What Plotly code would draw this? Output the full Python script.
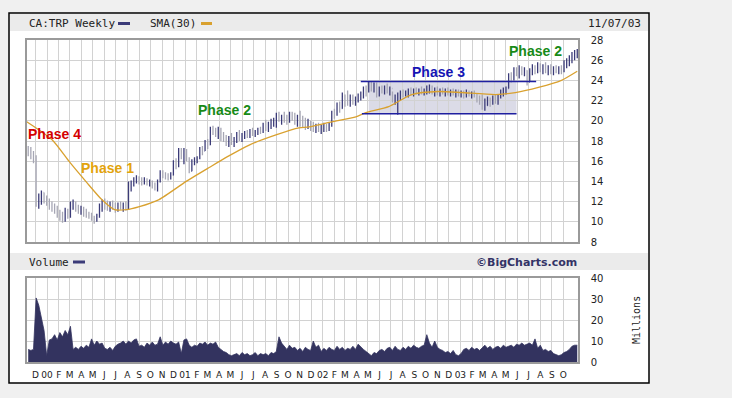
import plotly.graph_objects as go
import pandas as pd

# ---------------- data (weekly, CA:TRP) ----------------
week_start = "1999-11-12"
n_weeks = 209

highs = [17.5, 17.4, 17.0, 16.6, 12.8, 13.1, 12.9, 12.6, 12.3, 12.0,
         11.8, 11.6, 11.2, 11.0, 11.4, 11.3, 12.0, 12.2, 12.0, 11.7,
         11.6, 11.5, 11.3, 11.0, 10.9, 10.6, 10.8, 11.8, 12.2, 12.3,
         12.1, 12.0, 12.1, 11.9, 11.9, 12.0, 11.9, 12.0, 14.0, 14.1,
         14.4, 14.6, 14.5, 14.4, 14.4, 14.3, 14.2, 14.1, 13.9, 14.2,
         15.1, 15.1, 14.9, 14.8, 14.9, 16.1, 16.3, 17.3, 17.3, 17.3,
         17.2, 16.4, 16.2, 16.4, 16.5, 17.4, 17.5, 18.1, 18.2, 19.4,
         19.5, 19.3, 19.4, 19.3, 18.9, 18.6, 18.5, 18.8, 18.4, 18.9,
         19.1, 18.8, 19.0, 19.1, 19.2, 19.3, 19.1, 19.3, 19.4, 19.8,
         20.1, 19.9, 20.2, 20.3, 20.8, 20.9, 20.6, 20.9, 20.6, 20.9,
         20.9, 20.8, 20.6, 21.0, 20.5, 20.3, 20.2, 20.0, 19.9, 19.7,
         19.8, 19.6, 19.8, 19.7, 19.8, 21.0, 21.2, 21.8, 21.9, 22.8,
         22.6, 23.0, 22.6, 22.6, 22.4, 22.7, 22.9, 23.4, 23.5, 23.9,
         23.9, 23.8, 23.8, 23.4, 23.5, 23.5, 23.7, 23.4, 22.9, 22.6,
         22.8, 23.0, 23.1, 23.0, 23.2, 23.3, 23.2, 23.3, 23.2, 23.4,
         23.2, 23.5, 23.6, 23.5, 23.3, 23.4, 23.2, 23.3, 23.2, 23.3,
         23.1, 23.2, 23.1, 23.1, 23.0, 23.0, 23.1, 23.0, 22.9, 23.0,
         22.7, 22.5, 22.6, 22.2, 22.4, 22.3, 22.5, 22.6, 22.6, 23.1,
         23.3, 23.4, 24.7, 24.8, 25.3, 25.3, 25.5, 25.4, 25.3, 25.0,
         25.2, 25.6, 25.5, 25.8, 25.7, 25.6, 25.8, 25.5, 25.6, 25.4,
         25.5, 25.4, 25.5, 26.0, 26.2, 26.5, 26.8, 27.0, 27.1]

lows = [16.5, 16.2, 15.8, 11.5, 11.3, 11.7, 11.8, 11.6, 11.2, 11.0,
        10.8, 10.4, 10.1, 9.9, 10.0, 10.3, 10.4, 11.2, 11.0, 10.8,
        10.7, 10.5, 10.4, 10.3, 10.1, 9.8, 10.0, 10.4, 11.0, 11.2,
        11.1, 11.0, 11.2, 10.9, 11.0, 11.2, 11.0, 11.1, 11.2, 13.0,
        13.5, 13.8, 13.7, 13.6, 13.7, 13.6, 13.5, 13.3, 13.1, 13.0,
        13.9, 14.3, 14.2, 14.1, 14.2, 14.6, 15.2, 15.4, 16.2, 15.7,
        16.0, 14.8, 15.0, 15.6, 15.8, 16.2, 16.6, 17.0, 17.2, 17.6,
        18.6, 18.4, 18.2, 18.0, 17.9, 17.5, 17.4, 17.6, 17.4, 17.8,
        18.0, 17.9, 18.2, 18.3, 18.3, 18.5, 18.4, 18.6, 18.7, 18.8,
        19.0, 18.9, 19.2, 19.4, 19.3, 19.9, 19.6, 19.8, 19.6, 19.8,
        20.0, 19.6, 19.4, 19.4, 19.3, 19.1, 19.2, 19.0, 18.9, 18.8,
        18.9, 18.7, 18.9, 18.9, 19.0, 19.4, 20.2, 20.5, 20.8, 21.2,
        21.4, 21.5, 21.4, 21.6, 21.5, 21.8, 22.0, 22.2, 22.4, 22.8,
        22.9, 22.8, 22.3, 22.4, 22.7, 22.6, 22.7, 22.5, 21.8, 21.6,
        20.6, 22.0, 22.3, 22.4, 22.3, 22.5, 22.4, 22.6, 22.5, 22.6,
        22.5, 22.6, 22.7, 22.6, 22.4, 22.5, 22.4, 22.6, 22.4, 22.5,
        22.4, 22.5, 22.3, 22.4, 22.3, 22.2, 22.3, 22.4, 22.2, 22.3,
        21.8, 21.6, 21.1, 21.0, 21.5, 21.4, 21.6, 21.7, 21.6, 22.2,
        22.4, 22.6, 23.2, 23.8, 24.0, 24.4, 24.2, 24.5, 24.4, 23.5,
        23.9, 24.5, 24.6, 24.7, 24.8, 24.6, 24.7, 24.5, 24.6, 24.5,
        24.7, 24.6, 24.6, 24.8, 25.2, 25.4, 25.7, 26.0, 26.2]

closes = [17.0, 16.4, 16.0, 12.0, 12.5, 12.9, 12.2, 11.9, 11.5, 11.2,
          11.0, 10.6, 10.3, 10.2, 11.0, 10.6, 11.8, 11.9, 11.4, 11.0,
          11.2, 10.8, 10.6, 10.5, 10.3, 10.1, 10.5, 11.6, 12.0, 11.6,
          11.4, 11.8, 11.5, 11.3, 11.7, 11.4, 11.6, 11.3, 13.8, 13.9,
          14.2, 14.4, 14.0, 13.9, 14.1, 13.8, 13.9, 13.5, 13.3, 14.0,
          14.9, 14.6, 14.4, 14.3, 14.6, 15.9, 15.6, 17.0, 16.5, 16.9,
          16.3, 15.0, 15.8, 15.9, 16.3, 17.2, 17.0, 17.9, 17.6, 19.2,
          19.0, 18.8, 19.2, 18.3, 18.2, 17.8, 18.3, 17.9, 18.2, 18.6,
          18.3, 18.5, 18.7, 18.6, 18.9, 18.8, 18.9, 19.1, 19.0, 19.6,
          19.4, 19.7, 19.9, 20.0, 20.6, 20.2, 20.4, 20.3, 20.1, 20.5,
          20.3, 19.9, 20.4, 20.0, 19.6, 19.4, 19.8, 19.3, 19.2, 19.5,
          19.1, 19.3, 19.6, 19.1, 19.5, 20.8, 20.6, 21.6, 21.2, 22.5,
          21.8, 21.7, 22.3, 21.9, 22.2, 22.4, 22.5, 23.2, 23.1, 23.7,
          23.3, 23.5, 22.5, 23.1, 23.0, 23.3, 22.9, 23.2, 22.0, 22.2,
          22.5, 22.8, 22.6, 22.8, 23.0, 22.8, 23.0, 22.9, 23.1, 22.8,
          23.0, 23.3, 23.4, 22.9, 23.1, 22.8, 23.0, 22.9, 23.0, 22.7,
          22.9, 22.8, 22.9, 22.6, 22.8, 22.5, 22.9, 22.6, 22.7, 22.5,
          22.0, 21.9, 21.4, 21.5, 22.2, 21.8, 22.3, 22.0, 22.4, 22.9,
          23.1, 23.2, 24.5, 24.3, 25.1, 24.8, 25.2, 24.9, 25.0, 23.8,
          25.0, 25.3, 25.2, 25.5, 25.1, 25.4, 25.2, 25.3, 24.9, 25.2,
          25.0, 25.2, 24.9, 25.8, 25.9, 26.3, 26.6, 26.8, 26.9]

first_open = 17.3

volume_millions = [6, 5.5, 6, 30.5, 27, 21, 15, 3, 10.5, 11,
                   13, 10.5, 14, 12, 15, 13, 17, 6, 7, 6,
                   7.5, 6.5, 8, 7, 11, 8, 10, 8.5, 9, 6.5,
                   6, 7, 5.5, 7.5, 8.5, 9, 10, 8.5, 10, 9,
                   10.5, 11, 7.5, 8, 7, 9, 8, 9.5, 8, 8.5,
                   12, 8, 9.5, 8.5, 10, 9, 8.5, 9.5, 4, 10.5,
                   11, 8, 7, 8, 7.5, 9, 8.5, 9.5, 8, 9,
                   8.5, 9.5, 7, 6, 5, 4.5, 3.5, 3, 3.5, 4,
                   3, 4.5, 3.5, 4, 3, 3.5, 4.5, 3, 4, 3.5,
                   4, 3, 4.5, 4, 5, 12, 9, 7.5, 6, 8,
                   6.5, 7, 5.5, 6.5, 5, 7, 6, 5.5, 10, 7,
                   8, 5, 6.5, 5.5, 7, 6, 5.5, 7.5, 6, 7,
                   5.5, 6.5, 6, 7.5, 6, 8.5, 7, 6, 5, 4,
                   3, 4.5, 4, 5.5, 6, 5, 6.5, 7, 5.5, 7.5,
                   6, 5.5, 7, 6, 7.5, 6.5, 8, 7, 6.5, 7.5,
                   8, 13, 9, 7, 10, 7, 6, 5.5, 4.5, 5,
                   4, 5.5, 3.5, 3, 4, 6, 6.5, 5.5, 7, 6,
                   6.5, 5.5, 7, 8, 6.5, 7.5, 6, 7, 7.5, 6.5,
                   8, 7, 7.5, 8, 7, 8.5, 8, 9, 8, 8.5,
                   9, 8, 11, 6.5, 8, 5.5, 6, 5, 5.5, 4,
                   3.5, 3, 3.5, 4.5, 5, 6, 7.5, 8, 8]

sma_dates = ["1999-11-08", "2000-01-15", "2000-03-01", "2000-04-15", "2000-05-25",
             "2000-06-28", "2000-07-29", "2000-09-02", "2000-10-24", "2001-01-04",
             "2001-03-07", "2001-04-21", "2001-06-20", "2001-08-30", "2001-10-30",
             "2001-11-26", "2002-01-25", "2002-03-30", "2002-04-25", "2002-06-25",
             "2002-08-25", "2002-11-04", "2003-01-04", "2003-04-04", "2003-05-27",
             "2003-07-27", "2003-09-26", "2003-11-07"]
sma_values = [19.9, 18.1, 15.9, 13.9, 12.2,
              11.2, 11.2, 11.5, 12.2, 14.0,
              15.4, 16.4, 17.6, 18.6, 19.3,
              19.4, 19.9, 20.4, 20.8, 21.4,
              22.6, 22.9, 22.8, 22.6, 22.8,
              23.3, 24.0, 24.9]

month_labels = ["D", "00", "F", "M", "A", "M", "J", "J", "A", "S", "O", "N",
                "D", "01", "F", "M", "A", "M", "J", "J", "A", "S", "O", "N",
                "D", "02", "F", "M", "A", "M", "J", "J", "A", "S", "O", "N",
                "D", "03", "F", "M", "A", "M", "J", "J", "A", "S", "O"]
price_ticks = [8, 10, 12, 14, 16, 18, 20, 22, 24, 26, 28]
volume_ticks = [0, 10, 20, 30, 40]

phase_texts = ["Phase 4", "Phase 1", "Phase 2", "Phase 3", "Phase 2"]
phase_dates = ["2000-01-21", "2000-06-09", "2001-04-16", "2002-11-04", "2003-07-19"]
phase_prices = [18.7, 15.3, 21.1, 24.8, 26.9]
phase_colors = ["#d40000", "#e3a30c", "#178a17", "#1414b4", "#178a17"]

range_top, range_bottom = 23.9, 20.7
range_fill_dates = ["2002-05-03", "2003-05-30"]
range_top_dates = ["2002-04-12", "2003-07-21"]
range_bottom_dates = ["2002-04-15", "2003-05-30"]

# ---------------- figure ----------------
W, H = 732, 398
def px(x): return x / W
def py(y): return 1 - y / H

dates = pd.date_range(week_start, periods=n_weeks, freq="7D")
opens = [first_open] + closes[:-1]
month_ticks = pd.date_range("1999-12-01", periods=len(month_labels), freq="MS")

NAVY = "#3b3b78"
GRAY = "#a6a6b4"
SMA_C = "#d9a12f"
VOL_C = "#33335f"
GRID = "#d2d2d2"
FRAME = "#9a9a9a"

fig = go.Figure()
fig.add_trace(go.Ohlc(
    x=dates, open=opens, high=highs, low=lows, close=closes,
    increasing=dict(line=dict(color=NAVY, width=1.3)),
    decreasing=dict(line=dict(color=GRAY, width=1.3)),
    tickwidth=0.2, xaxis="x", yaxis="y", hoverinfo="skip", showlegend=False))
fig.add_trace(go.Scatter(
    x=sma_dates, y=sma_values, mode="lines",
    line=dict(color=SMA_C, width=1.3, shape="spline", smoothing=0.6),
    xaxis="x", yaxis="y", hoverinfo="skip", showlegend=False))
fig.add_trace(go.Scatter(
    x=dates, y=volume_millions, mode="lines", fill="tozeroy",
    line=dict(color=VOL_C, width=0.8), fillcolor=VOL_C,
    xaxis="x2", yaxis="y2", hoverinfo="skip", showlegend=False))

x_range = ["1999-11-08", "2003-11-09"]
xdom = [px(26.7), px(578)]

axis_common = dict(showgrid=True, gridcolor=GRID, gridwidth=1, showline=True,
                   linecolor=FRAME, linewidth=1.5, mirror=True, zeroline=False,
                   automargin=False)

fig.update_layout(
    template="none",
    width=W, height=H, autosize=False,
    margin=dict(l=0, r=0, t=0, b=0, pad=0, autoexpand=False),
    paper_bgcolor="#f0f0f0", plot_bgcolor="white",
    showlegend=False,
    xaxis=dict(domain=xdom, range=x_range, type="date", anchor="y",
               tickmode="array", tickvals=month_ticks, showticklabels=False,
               ticks="", rangeslider=dict(visible=False), **axis_common),
    yaxis=dict(domain=[py(242), py(40)], range=[8, 28], anchor="x", side="right",
               tickmode="array", tickvals=price_ticks, ticks="",
               ticklabelstandoff=9,
               tickfont=dict(family="DejaVu Sans", size=10, color="#222222"),
               **axis_common),
    xaxis2=dict(domain=xdom, range=x_range, type="date", anchor="y2", matches="x",
                tickmode="array", tickvals=month_ticks, ticktext=month_labels,
                ticks="", ticklabelstandoff=3,
                tickfont=dict(family="DejaVu Sans", size=9, color="#222222"),
                **axis_common),
    yaxis2=dict(domain=[py(362), py(278)], range=[0, 40], anchor="x2", side="right",
                tickmode="array", tickvals=volume_ticks, ticks="",
                ticklabelstandoff=9,
                tickfont=dict(family="DejaVu Sans", size=10, color="#222222"),
                **axis_common),
)

shapes = []
# outer white box
shapes.append(dict(type="rect", xref="paper", yref="paper", x0=px(9), x1=px(649),
                   y0=py(383), y1=py(13), fillcolor="white",
                   line=dict(color="black", width=1.5), layer="below"))
# header strips
for (ya, yb) in [(14, 31), (253, 270)]:
    shapes.append(dict(type="rect", xref="paper", yref="paper", x0=px(10), x1=px(648),
                       y0=py(yb), y1=py(ya), fillcolor="#ebebeb",
                       line=dict(width=0), layer="below"))
# legend swatches
for (xa, xb, col, yy) in [(118, 130, NAVY, 23.5), (201, 212, SMA_C, 23.5), (73, 85, NAVY, 262)]:
    shapes.append(dict(type="line", xref="paper", yref="paper", x0=px(xa), x1=px(xb),
                       y0=py(yy), y1=py(yy), line=dict(color=col, width=3)))
# Phase 3 range box
shapes.append(dict(type="rect", xref="x", yref="y", x0=range_fill_dates[0], x1=range_fill_dates[1],
                   y0=range_bottom, y1=range_top, fillcolor="rgba(190,190,212,0.55)",
                   line=dict(width=0), layer="below"))
shapes.append(dict(type="line", xref="x", yref="y", x0=range_top_dates[0], x1=range_top_dates[1],
                   y0=range_top, y1=range_top, line=dict(color="#1f1fa0", width=1.5)))
shapes.append(dict(type="line", xref="x", yref="y", x0=range_bottom_dates[0], x1=range_bottom_dates[1],
                   y0=range_bottom, y1=range_bottom, line=dict(color="#1f1fa0", width=1.5)))
fig.update_layout(shapes=shapes)

mono = "DejaVu Sans Mono"
annotations = [
    dict(x=px(27), y=py(23.5), xref="paper", yref="paper", xanchor="left", yanchor="middle",
         text="CA:TRP Weekly", showarrow=False, font=dict(family=mono, size=11, color="#222")),
    dict(x=px(148), y=py(23.5), xref="paper", yref="paper", xanchor="left", yanchor="middle",
         text="SMA(30)", showarrow=False, font=dict(family=mono, size=11, color="#222")),
    dict(x=px(643), y=py(23.5), xref="paper", yref="paper", xanchor="right", yanchor="middle",
         text="11/07/03", showarrow=False, font=dict(family=mono, size=11, color="#222")),
    dict(x=px(27), y=py(262), xref="paper", yref="paper", xanchor="left", yanchor="middle",
         text="Volume", showarrow=False, font=dict(family=mono, size=11, color="#222")),
    dict(x=px(579), y=py(262), xref="paper", yref="paper", xanchor="right", yanchor="middle",
         text="<b>©BigCharts.com</b>", showarrow=False,
         font=dict(family="DejaVu Sans", size=11, color="#333366")),
    dict(x=px(636), y=py(320), xref="paper", yref="paper", xanchor="center", yanchor="middle",
         text="Millions", textangle=-90, showarrow=False,
         font=dict(family=mono, size=10, color="#222")),
]
for t, d, p, c in zip(phase_texts, phase_dates, phase_prices, phase_colors):
    annotations.append(dict(x=d, y=p, xref="x", yref="y", text="<b>" + t + "</b>",
                            showarrow=False, xanchor="center", yanchor="middle",
                            font=dict(family="Liberation Sans, Arial", size=14, color=c)))
fig.update_layout(annotations=annotations)

fig.write_html("out.html",
               config={"displayModeBar": False, "responsive": False},
               post_script="document.body.style.margin='0';document.body.style.padding='0';"
                           "document.body.style.overflow='hidden';")
